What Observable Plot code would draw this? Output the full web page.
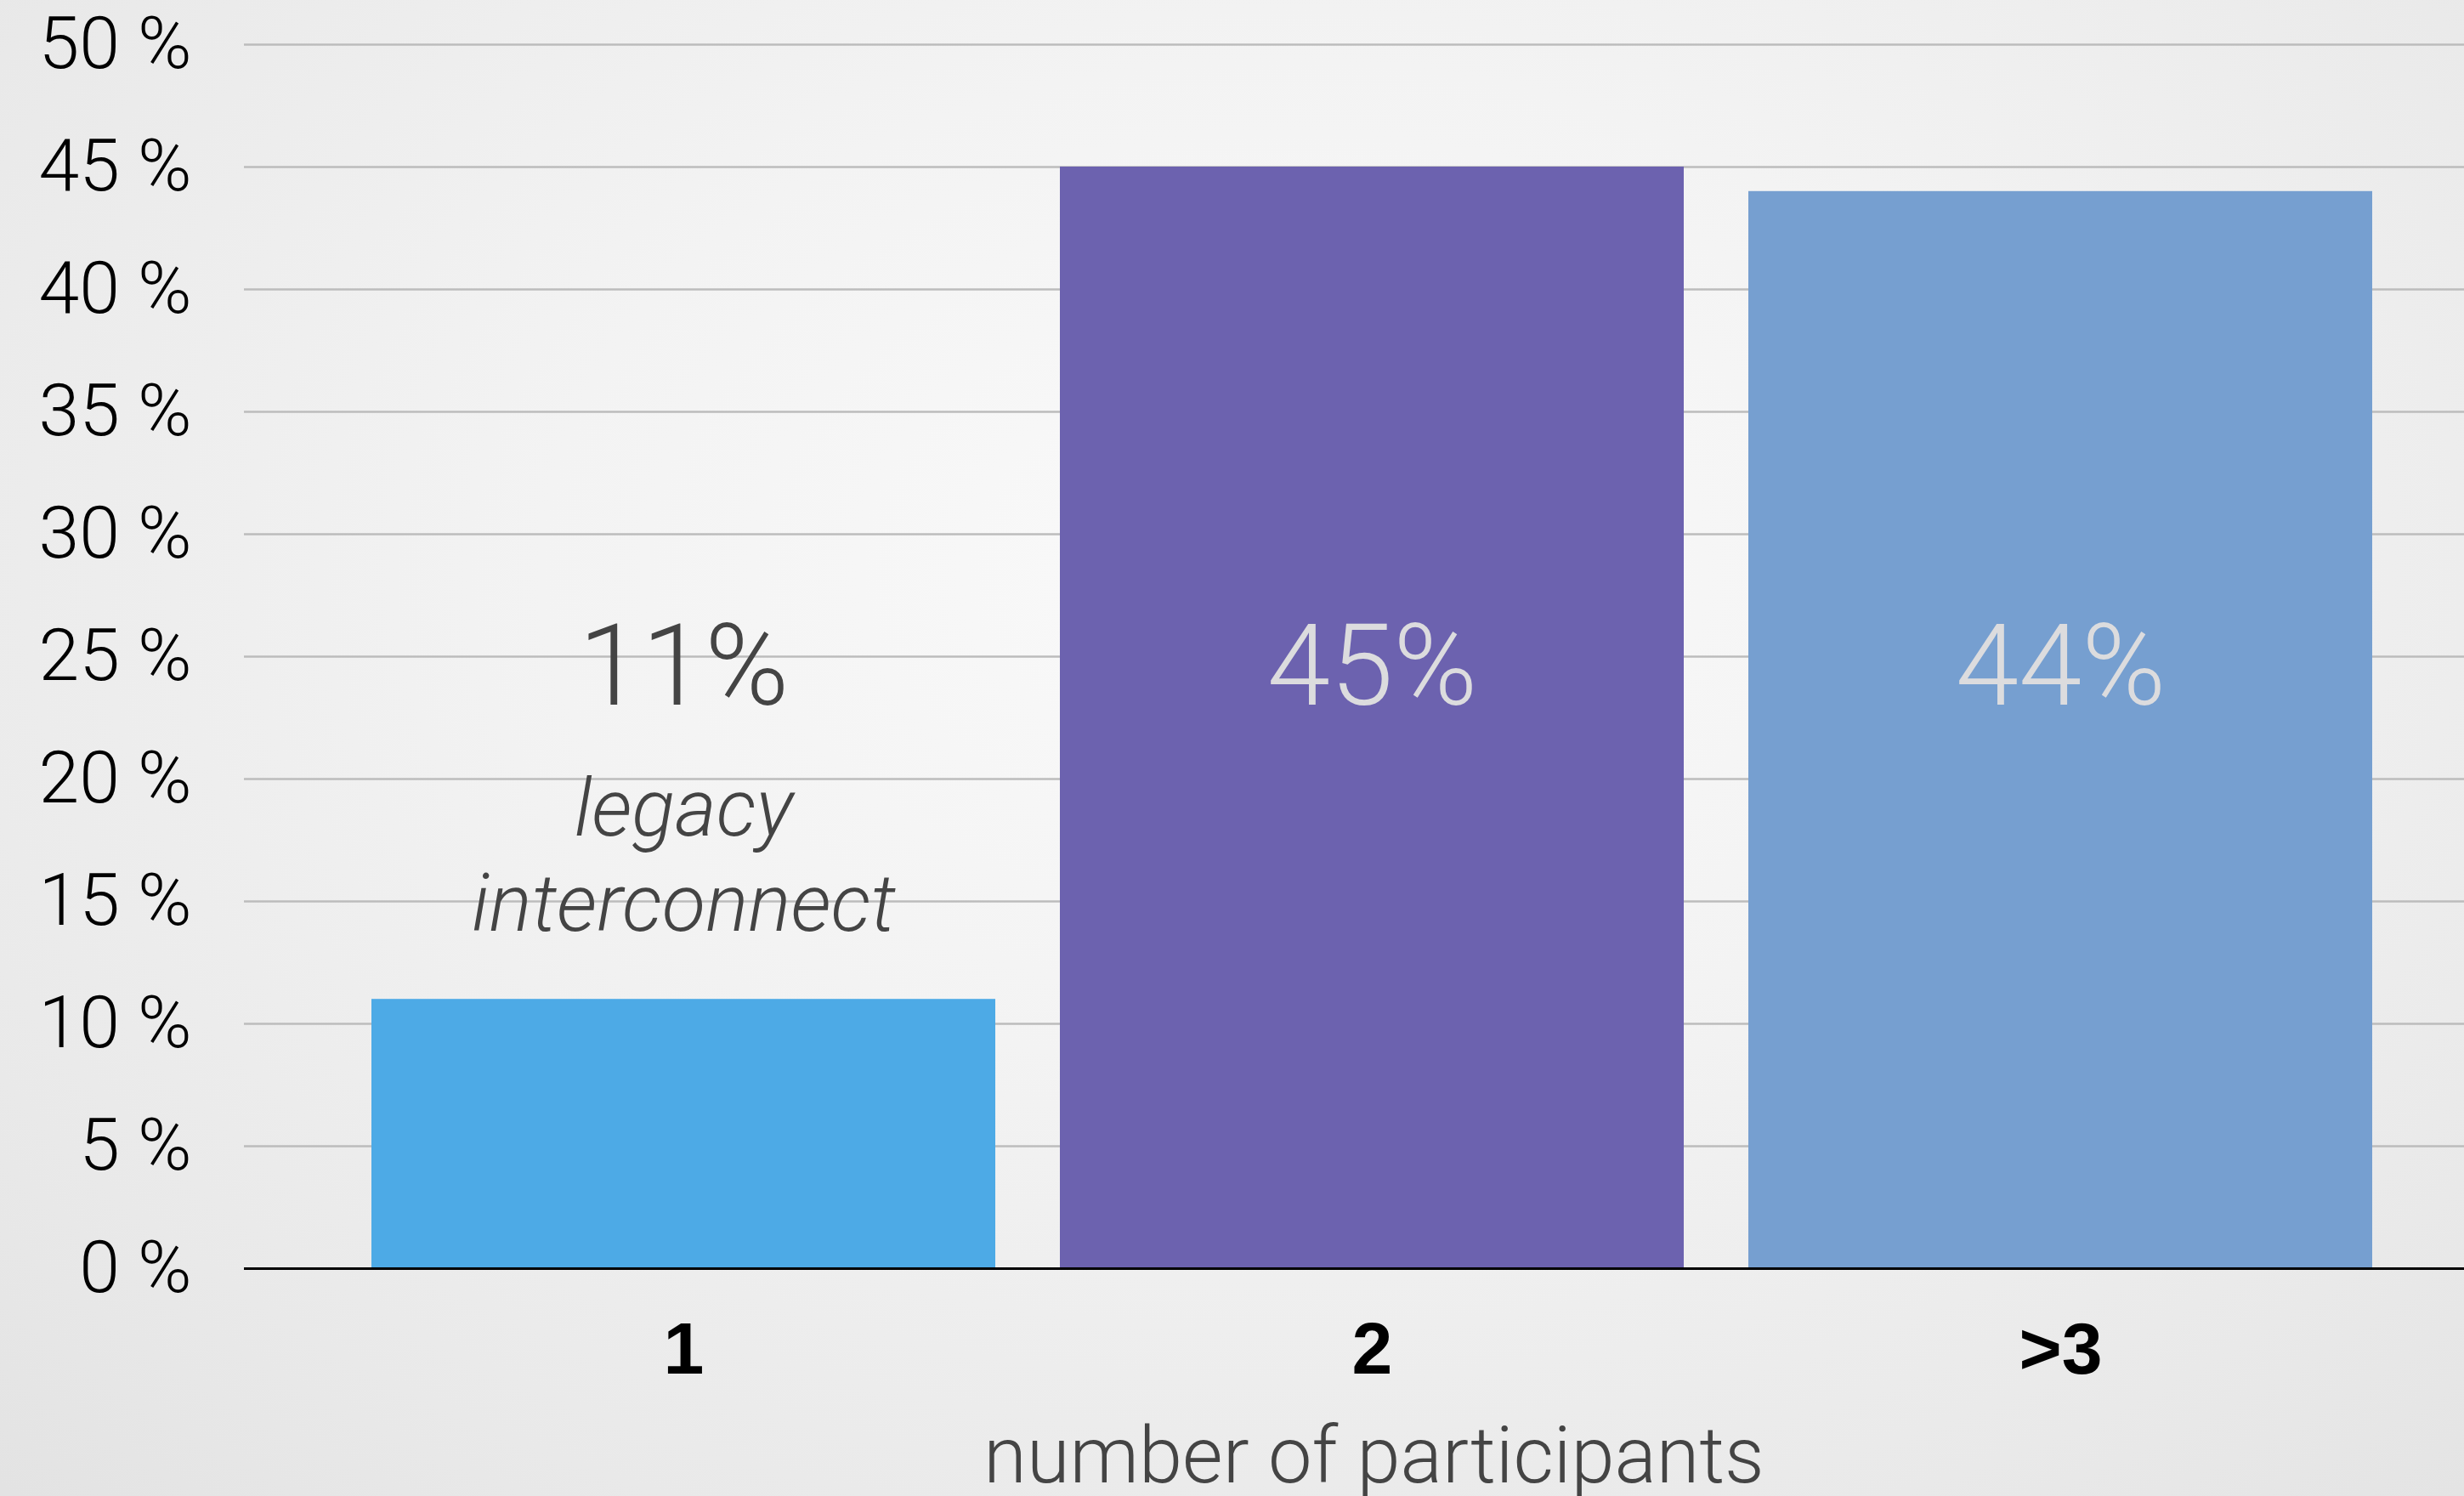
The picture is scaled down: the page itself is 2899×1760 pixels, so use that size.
<!DOCTYPE html>
<html>
<head>
<meta charset="utf-8">
<script src="https://cdn.jsdelivr.net/npm/d3@7"></script>
<script src="https://cdn.jsdelivr.net/npm/@observablehq/plot@0.6"></script>
<style>
  html, body { margin: 0; padding: 0; }
  body {
    width: 2899px; height: 1760px; overflow: hidden;
    background: radial-gradient(ellipse 75% 85% at 52% 38%, #fafafa 0%, #f3f3f3 40%, #e9e9e9 80%, #e3e3e3 100%);
  }
  #chart svg { display: block; }
</style>
</head>
<body>
<div id="chart"></div>
<script>
const categories = ["1", "2", ">3"];
const values = [11, 45, 44];
const valueLabels = ["11%", "45%", "44%"];
const barColors = ["#4DAAE6", "#6C62AF", "#769FD0"];
const labelColors = ["#444444", "#DCDCDE", "#DCDCDE"];
const yTicks = [0, 5, 10, 15, 20, 25, 30, 35, 40, 45, 50];
const annotation = "legacy\ninterconnect";
const xTitle = "number of participants";

const data = categories.map((c, i) => ({cat: c, value: values[i], label: valueLabels[i], color: barColors[i], tcolor: labelColors[i]}));

const FONT = "Roboto, 'Liberation Sans', sans-serif";

const chart = Plot.plot({
  width: 2899,
  height: 1760,
  marginLeft: 287,
  marginRight: 0,
  marginTop: 52,
  marginBottom: 268,
  style: {background: "transparent", fontFamily: FONT, overflow: "visible"},
  x: {type: "band", domain: categories, range: [436, 2792], paddingInner: 0.094, paddingOuter: 0},
  y: {domain: [0, 50]},
  marks: [
    Plot.ruleY(yTicks.filter(d => d > 0), {stroke: "#bcbcbc", strokeWidth: 2.5}),
    Plot.barY(data, {x: "cat", y: "value", fill: "color"}),
    Plot.ruleY([0], {stroke: "#000", strokeWidth: 3}),
    Plot.axisY({ticks: yTicks, tickFormat: d => d + " %", tickSize: 0, tickPadding: 62,
      fontSize: 86, fontWeight: 300, fill: "#000", label: null}),
    Plot.axisX({tickSize: 0, tickPadding: 62, fontSize: 86, fontWeight: "bold",
      fontFamily: "'Liberation Sans', Arial, sans-serif", fill: "#000", label: null}),
    Plot.text(data, {x: "cat", text: "label", fill: "tcolor", frameAnchor: "top", lineAnchor: "middle", dy: 734,
      fontSize: 134, fontWeight: 300}),
    Plot.text([annotation], {x: () => categories[0], text: d => d, frameAnchor: "top", lineAnchor: "middle", dy: 951,
      fontSize: 94, fontWeight: 300, fontStyle: "italic", fill: "#444", lineHeight: 1.19}),
    Plot.text([xTitle], {frameAnchor: "bottom", dx: 23, dy: 251, lineAnchor: "bottom",
      fontSize: 92, fontWeight: 300, fill: "#444"})
  ]
});
document.getElementById("chart").appendChild(chart);
</script>
</body>
</html>
